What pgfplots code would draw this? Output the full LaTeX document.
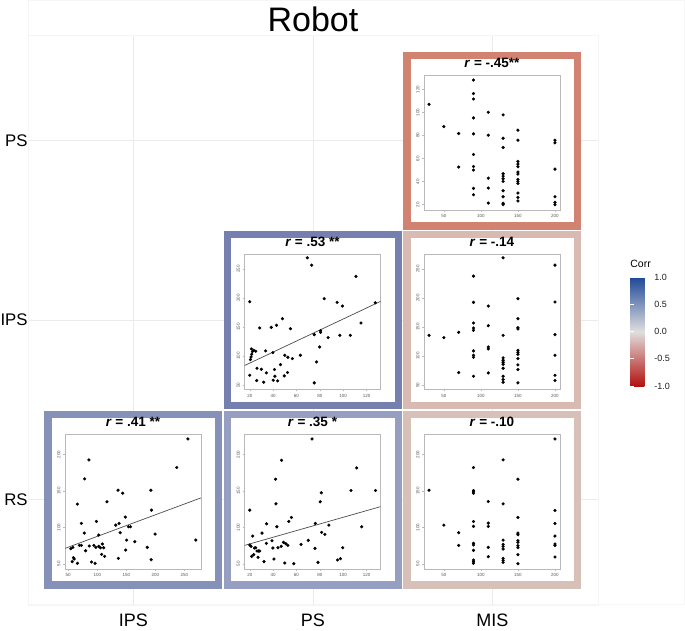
\documentclass[border=0pt]{standalone}
\usepackage{fontspec}
\setmainfont{Liberation Sans}
\usepackage{pgfplots}
\pgfplotsset{compat=1.18}

\definecolor{cA}{RGB}{209,130,112}
\definecolor{cB}{RGB}{118,128,174}
\definecolor{cC}{RGB}{216,186,178}
\definecolor{cD}{RGB}{134,145,186}
\definecolor{cE}{RGB}{150,158,194}
\definecolor{cF}{RGB}{215,192,184}

\pgfplotsset{
 /pgf/number format/assume math mode=true,
 tile/.style={scale only axis, width=136pt, height=135pt, anchor=north west,
   axis line style={gray!55, line width=0.6pt},
   tick style={gray!55, line width=0.4pt}, tick align=outside, major tick length=2pt,
   xtick pos=bottom, ytick pos=left, scaled ticks=false,
   ticklabel style={font=\fontsize{4.5}{5}\selectfont, text=gray!70!black, inner sep=1pt},
   xticklabel style={yshift=-1.5pt},
   yticklabel style={xshift=-1.5pt, rotate=90, anchor=south},
   title style={font=\bfseries\fontsize{13.5}{14}\selectfont, at={(0.5,1)}, anchor=base, yshift=1.5pt},
 },
 pts/.style={only marks, mark=*, mark size=1.4pt, black},
 fit/.style={no marks, gray!60!black, line width=0.7pt},
}

\begin{document}
\begin{tikzpicture}
\useasboundingbox (0,0) rectangle (685pt,631pt);
\fill[white] (0,0) rectangle (685pt,631pt);
\draw[gray!7, line width=0.6pt] (28.1pt,26.5pt) rectangle (684.6pt,630.6pt);

\begin{axis}[at={(28.1pt,26.1pt)}, anchor=south west, scale only axis,
 width=569.7pt, height=569.7pt,
 xmin=0.413, xmax=3.587, ymin=0.413, ymax=3.587,
 xtick={1,2,3}, xticklabels={IPS,PS,MIS}, ytick={1,2,3}, yticklabels={RS,IPS,PS},
 major tick length=0pt, xmajorgrids, ymajorgrids,
 major grid style={draw=gray!16, line width=0.7pt},
 axis line style={draw=gray!8},
 ticklabel style={inner sep=0pt},
 xticklabel style={anchor=north, yshift=-9pt, font=\fontsize{18}{20}\selectfont},
 yticklabel style={anchor=east, xshift=-0.3pt, font=\fontsize{16.8}{18}\selectfont},
 title=Robot, title style={at={(0.5,1)}, anchor=base, yshift=-2pt, font=\fontsize{34}{36}\selectfont},
 point meta min=-1, point meta max=1,
 colormap={corr}{rgb255(0cm)=(178,18,14); rgb255(1cm)=(224,222,222); rgb255(2cm)=(30,72,152)},
 colorbar,
 colorbar style={
   at={(parent axis.north east)}, anchor=north west, xshift=23.8pt, yshift=-241.9pt,
   scale only axis, width=21pt, height=109pt,
   ytick={-1,-0.5,0,0.5,1}, yticklabels={-1.0,-0.5,0.0,0.5,1.0},
   yticklabel style={font=\fontsize{9}{10}\selectfont, text=gray!25!black, anchor=west, inner sep=0pt, xshift=3pt},
   major tick length=4pt, tick align=inside, tick style={white, line width=0.7pt},
   ytick pos=both, yticklabel pos=right,
   axis line style={draw=none},
   title=Corr, title style={at={(0,1)}, anchor=south west, inner sep=0pt, yshift=3pt, font=\fontsize{10.5}{11}\selectfont},
 },
]
\fill[cA] (axis cs:2.504,2.504) rectangle (axis cs:3.496,3.496);
\fill[cB] (axis cs:1.504,1.504) rectangle (axis cs:2.496,2.496);
\fill[cC] (axis cs:2.504,1.504) rectangle (axis cs:3.496,2.496);
\fill[cD] (axis cs:0.504,0.504) rectangle (axis cs:1.496,1.496);
\fill[cE] (axis cs:1.504,0.504) rectangle (axis cs:2.496,1.496);
\fill[cF] (axis cs:2.504,0.504) rectangle (axis cs:3.496,1.496);
\fill[white] (axis cs:2.545,2.545) rectangle (axis cs:3.455,3.455);
\fill[white] (axis cs:1.545,1.545) rectangle (axis cs:2.455,2.455);
\fill[white] (axis cs:2.545,1.545) rectangle (axis cs:3.455,2.455);
\fill[white] (axis cs:0.545,0.545) rectangle (axis cs:1.455,1.455);
\fill[white] (axis cs:1.545,0.545) rectangle (axis cs:2.455,1.455);
\fill[white] (axis cs:2.545,0.545) rectangle (axis cs:3.455,1.455);
\end{axis}

% Tile 1: MIS vs PS
\begin{axis}[tile, at={(424pt,556pt)}, xmin=23.2, xmax=206.8, ymin=15.4, ymax=132.4,
  xtick={50,100,150,200}, ytick={20,40,...,120}, title={\textit{r} = -.45**}]
\addplot[pts] coordinates {(30,107) (50,87.7) (70,81.7) (70,52.6) (90,128) (90,116.3) (90,111.6) (90,95.2) (90,81.4) (90,63.5) (90,53.1) (90,50) (90,34.1) (90,28.6) (110,100.1) (110,80.2) (110,43) (110,34.4) (110,21.4) (130,97.8) (130,77.6) (130,69.6) (130,46.8) (130,44.8) (130,42.5) (130,40.2) (130,32.1) (130,26.9) (130,21.2) (130,20) (150,84.6) (150,75.9) (150,57.5) (150,55.2) (150,52.9) (150,48.3) (150,46.5) (150,41.9) (150,40.2) (150,38.4) (150,30.1) (150,26.3) (150,23.2) (200,75.9) (200,73.6) (200,50.8) (200,26.9) (200,22) (200,20)};
\end{axis}

% Tile 2: PS vs IPS
\begin{axis}[tile, at={(244.5pt,376.5pt)}, xmin=15.5, xmax=131.9, ymin=42.6, ymax=274.6,
  xtick={20,40,...,120}, ytick={50,100,...,250}, title={\textit{r} = .53 **}]
\addplot[fit] coordinates {(15.5,83.7) (131.9,194.0)};
\addplot[pts] coordinates {(20,193.4) (20,67.1) (20.6,94) (21.1,98.6) (21.7,103.1) (21.4,112.3) (22.3,107.7) (23.4,110) (25.1,108.3) (26.2,79.1) (25.9,58) (28.5,148.3) (29.9,77.4) (31.9,55.1) (33.6,108.9) (34.2,71.1) (38.4,149.4) (39.8,106) (40.1,58.6) (41.2,76.9) (41.5,65.4) (42.9,152.9) (43.8,57.4) (46.3,85.4) (48,164.3) (49.5,66) (50,101.4) (52.6,98) (52.3,71.7) (54.8,147.1) (56.5,95.7) (63.3,101.4) (69.3,268.9) (73,256.3) (75.2,136.9) (75.2,54) (77.2,90) (79.8,115.7) (80.6,143.7) (80.6,140.9) (83.7,198.6) (87.1,131.7) (94.8,192.3) (97.1,135.7) (99.3,186) (106.1,135.7) (110.9,236.9) (115.2,156.9) (127.4,191.7)};
\end{axis}

% Tile 3: MIS vs IPS
\begin{axis}[tile, at={(424pt,376.5pt)}, xmin=23.2, xmax=206.8, ymin=42.6, ymax=274.6,
  xtick={50,100,150,200}, ytick={50,100,...,250}, title={\textit{r} = -.14}]
\addplot[pts] coordinates {(30,135.7) (50,131.7) (70,140.9) (70,71.7) (90,237.4) (90,192.3) (90,156.9) (90,148.3) (90,144.3) (90,108.9) (90,101.4) (90,98) (90,65.4) (110,186) (110,152.3) (110,115.7) (110,112.3) (110,71.1) (130,268.9) (130,135.7) (130,96.9) (130,92.9) (130,89.4) (130,86) (130,79.1) (130,65.4) (130,59.7) (130,55.1) (150,198.6) (150,164.3) (150,148.9) (150,146.6) (150,110) (150,106.6) (150,103.1) (150,95.7) (150,84.9) (150,76.9) (150,54) (200,256.3) (200,192.9) (200,136.9) (200,101.4) (200,67.1) (200,58)};
\end{axis}

% Tile 4: IPS vs RS
\begin{axis}[tile, at={(65pt,197pt)}, xmin=44.4, xmax=278.8, ymin=42.9, ymax=228.3,
  xtick={50,100,...,250}, ytick={50,100,150,200}, title={\textit{r} = .41 **}]
\addplot[fit] coordinates {(44.4,71.2) (278.8,140.6)};
\addplot[pts] coordinates {(54.5,70.8) (56.8,53) (57.9,72.6) (59,58.4) (60.2,56.6) (65.8,50.7) (65.8,132) (69.2,75.3) (72.6,105.5) (72.6,75.3) (77.7,92.2) (78.2,166.7) (79.9,68) (85.6,192.7) (86.2,74.4) (90.1,52.5) (94.1,75.3) (96.3,50.7) (97.5,72.6) (98.6,108.2) (102.5,74) (102.5,89.5) (105.4,72.1) (107.6,63) (108.8,77.2) (111,72.1) (112.7,60.3) (116.7,135.2) (131.9,103.2) (135.9,151.1) (137.6,105.5) (143.8,147) (148.3,114.2) (136.4,57.5) (148.9,68.9) (150.6,82.6) (153.9,100.9) (157.3,100.9) (139.5,92.7) (164.7,80.4) (186.2,72.6) (192.4,151.1) (192.9,55.7) (193.5,123.7) (199.7,90.9) (237,182.2) (256.2,221.5) (269.8,82.6)};
\end{axis}

% Tile 5: PS vs RS
\begin{axis}[tile, at={(244.5pt,197pt)}, xmin=15.5, xmax=131.9, ymin=42.9, ymax=228.3,
  xtick={20,40,...,120}, ytick={50,100,150,200}, title={\textit{r} = .35 *}]
\addplot[fit] coordinates {(15.5,75.3) (131.9,128.5)};
\addplot[pts] coordinates {(20,123.7) (20,75.8) (21.1,74) (21.7,60.3) (22.5,88.1) (23.4,62.6) (24,71.7) (25.1,72.1) (26.2,67.6) (27.1,58.9) (27.4,67.6) (28.5,67.6) (30.5,92.2) (32.2,53) (34.2,78.1) (34.4,105) (39,81.7) (39.8,71.7) (40.7,56.6) (42.4,132.4) (42.1,166.2) (43.2,100.9) (44.1,72.1) (46.9,74) (47.2,192.2) (48.9,79.5) (50,51.1) (50.9,77.6) (52.6,75.3) (53.4,108.2) (55.7,113.7) (57.7,50.2) (63.9,76.7) (70.1,82.2) (73.3,221.5) (76.1,105.5) (75.8,71.2) (78.4,52) (80.3,135.2) (81.2,147.5) (81.5,93.2) (84.3,90.4) (87.7,103.2) (95.1,55.3) (97.6,57.1) (99.6,72.1) (106.7,150.7) (111.5,181.7) (115.8,100.9) (127.6,150.7)};
\end{axis}

% Tile 6: MIS vs RS
\begin{axis}[tile, at={(424pt,197pt)}, xmin=23.2, xmax=206.8, ymin=42.9, ymax=228.3,
  xtick={50,100,150,200}, ytick={50,100,150,200}, title={\textit{r} = -.10}]
\addplot[pts] coordinates {(30,151.1) (50,103.2) (70,92.7) (70,75.3) (90,182.2) (90,150.7) (90,148.9) (90,147) (90,108.2) (90,101.4) (90,78.1) (90,75.8) (90,68.5) (90,55.3) (90,53) (90,50.7) (110,135.6) (110,105.9) (110,101.4) (110,72.6) (110,59.8) (130,192.7) (130,132.4) (130,82.6) (130,76.7) (130,74) (130,70.3) (130,57.5) (130,54.8) (130,52) (150,166.2) (150,113.7) (150,92.2) (150,90) (150,81.7) (150,79.5) (150,74.9) (150,72.1) (150,62.6) (150,50.2) (200,221.5) (200,123.3) (200,105.5) (200,88.1) (200,77.2) (200,75.3) (200,59.4)};
\end{axis}
\end{tikzpicture}
\end{document}
